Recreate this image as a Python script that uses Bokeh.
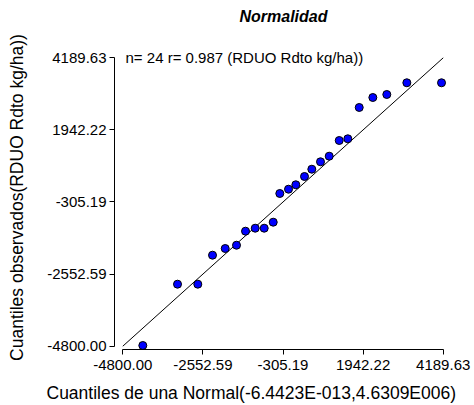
from bokeh.plotting import figure
from bokeh.models import Range1d, FixedTicker, Label, Title
from bokeh.embed import file_html
from bokeh.resources import INLINE

# Theoretical normal quantiles (x) and observed quantiles (y)
theoretical = [-4239, -3265, -2696, -2283, -1927, -1610, -1357, -1085, -833, -580,
               -395, -151, 54, 298, 503, 747, 991, 1272, 1513, 1833,
               2215, 2607, 3169, 4142]
observed = [-4778, -2867, -2867, -1963, -1755, -1652, -1215, -1122, -1122, -935,
            -40, 94, 231, 490, 717, 948, 1123, 1612, 1665, 2641,
            2952, 3046, 3411, 3411]
tick_values = [-4800.00, -2552.59, -305.19, 1942.22, 4189.63]
tick_labels = ["-4800.00", "-2552.59", "-305.19", "1942.22", "4189.63"]
ref_line = [-4800.00, 4189.63]

title_text = "Normalidad"
annot_text = "n= 24 r= 0.987 (RDUO Rdto kg/ha))"
xlabel = "Cuantiles de una Normal(-6.4423E-013,4.6309E006)"
ylabel = "Cuantiles observados(RDUO Rdto kg/ha))"

FONT = "Liberation Sans"

p = figure(width=474, height=405, output_backend="svg", toolbar_location=None,
           x_range=Range1d(-5033, 4450), y_range=Range1d(-4903, 4573),
           min_border_left=114, min_border_right=22,
           min_border_top=45, min_border_bottom=56)
p.title.text = ""
p.title.standoff = 0
p.outline_line_color = None
p.xgrid.visible = False
p.ygrid.visible = False
p.background_fill_color = None
p.border_fill_color = "white"

for ax in (p.xaxis[0], p.yaxis[0]):
    ax.ticker = FixedTicker(ticks=tick_values)
    ax.major_label_overrides = {v: s for v, s in zip(tick_values, tick_labels)}
    ax.bounds = (tick_values[0], tick_values[-1])
    ax.minor_tick_line_color = None
    ax.major_tick_in = 0
    ax.major_tick_out = 5
    ax.axis_line_color = "black"
    ax.axis_line_width = 1
    ax.major_tick_line_color = "black"
    ax.major_label_text_font = FONT
    ax.major_label_text_font_size = "15px"
    ax.major_label_text_color = "black"
    ax.axis_label_text_font = FONT
    ax.axis_label_text_font_size = "17.5px"
    ax.axis_label_text_font_style = "normal"
    ax.axis_label_text_color = "black"
    ax.major_label_standoff = 3

p.xaxis[0].major_label_standoff = 5
p.yaxis[0].axis_label = ylabel
p.yaxis[0].axis_label_standoff = 17
p.yaxis[0].major_label_orientation = "horizontal"

# spacer between frame and title (above), then the title
p.add_layout(Title(text=" ", text_font_size="1px", standoff=10), "above")
p.add_layout(Title(text=title_text, align="center", vertical_align="top",
                   text_font=FONT, text_font_size="16px",
                   text_font_style="bold italic", text_color="black",
                   standoff=12), "above")

# spacer below the x axis, then the x axis title
p.add_layout(Title(text=" ", text_font_size="1px", standoff=7), "below")
p.add_layout(Title(text=xlabel, align="left", offset=-68, vertical_align="top",
                   text_font=FONT, text_font_size="17.5px",
                   text_font_style="normal", text_color="black",
                   standoff=0), "below")

p.line(ref_line, ref_line, line_color="black", line_width=1)
p.scatter(theoretical, observed, size=8, fill_color="#0000FF",
          line_color="black", line_width=1)

p.add_layout(Label(x=-4724, y=4189.63, text=annot_text, text_font=FONT,
                   text_font_size="15px", text_baseline="middle",
                   text_color="black"))

open("out.html", "w").write(file_html(p, INLINE))
